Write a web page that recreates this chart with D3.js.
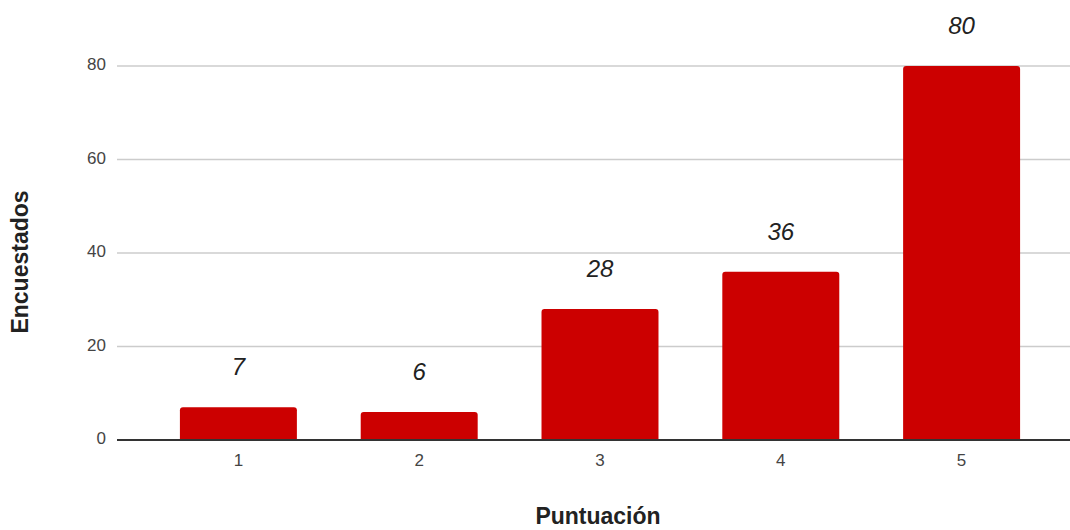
<!DOCTYPE html>
<html><head><meta charset="utf-8">
<script src="https://cdn.jsdelivr.net/npm/d3@7"></script>
<style>body{margin:0;background:#fff;} svg{display:block;font-family:Arial,"Liberation Sans",sans-serif;}</style>
</head><body>
<svg id="c" width="1070" height="530"></svg>
<script>
const categories = ["1","2","3","4","5"];
const values = [7, 6, 28, 36, 80];
const yTicks = [0, 20, 40, 60, 80];

const svg = d3.select("#c");
const x = d3.scaleBand().domain(categories).range([148, 1052]).paddingInner(0.353).paddingOuter(0.1765);
const y = d3.scaleLinear().domain([0, 80]).range([440, 66]);

// gridlines
svg.append("g").selectAll("line").data(yTicks.filter(d=>d>0)).join("line")
  .attr("x1", 117).attr("x2", 1070)
  .attr("y1", d=>y(d)).attr("y2", d=>y(d))
  .attr("stroke", "#cccccc").attr("stroke-width", 1.3);

// y tick labels
svg.append("g").selectAll("text").data(yTicks).join("text")
  .attr("x", 106).attr("y", d=>y(d) + 4)
  .attr("text-anchor", "end").attr("font-size", 17).attr("fill", "#444")
  .text(d=>d);

// bars
svg.append("g").selectAll("path").data(values).join("path")
  .attr("fill", "#cc0000")
  .attr("d", (d,i)=>{
    const x0 = x(categories[i]), w = x.bandwidth(), y0 = y(d), y1 = y(0), r = 3;
    return `M${x0},${y1}V${y0+r}Q${x0},${y0} ${x0+r},${y0}H${x0+w-r}Q${x0+w},${y0} ${x0+w},${y0+r}V${y1}Z`;
  });

// baseline
svg.append("line").attr("x1", 117).attr("x2", 1070).attr("y1", y(0)).attr("y2", y(0))
  .attr("stroke", "#333").attr("stroke-width", 2);

// value labels
svg.append("g").selectAll("text").data(values).join("text")
  .attr("x", (d,i)=>x(categories[i]) + x.bandwidth()/2)
  .attr("y", d=>y(d) - 32)
  .attr("text-anchor", "middle").attr("font-size", 24).attr("font-style", "italic").attr("fill", "#222")
  .text(d=>d);

// x tick labels
svg.append("g").selectAll("text").data(categories).join("text")
  .attr("x", d=>x(d) + x.bandwidth()/2).attr("y", 466)
  .attr("text-anchor", "middle").attr("font-size", 17).attr("fill", "#444")
  .text(d=>d);

// axis titles
svg.append("text").attr("x", 598).attr("y", 524).attr("text-anchor", "middle")
  .attr("font-size", 23).attr("font-weight", "bold").attr("fill", "#222").text("Puntuación");
svg.append("text").attr("transform", "translate(28,262) rotate(-90)").attr("text-anchor", "middle")
  .attr("font-size", 23).attr("font-weight", "bold").attr("fill", "#222").text("Encuestados");
</script>
</body></html>
